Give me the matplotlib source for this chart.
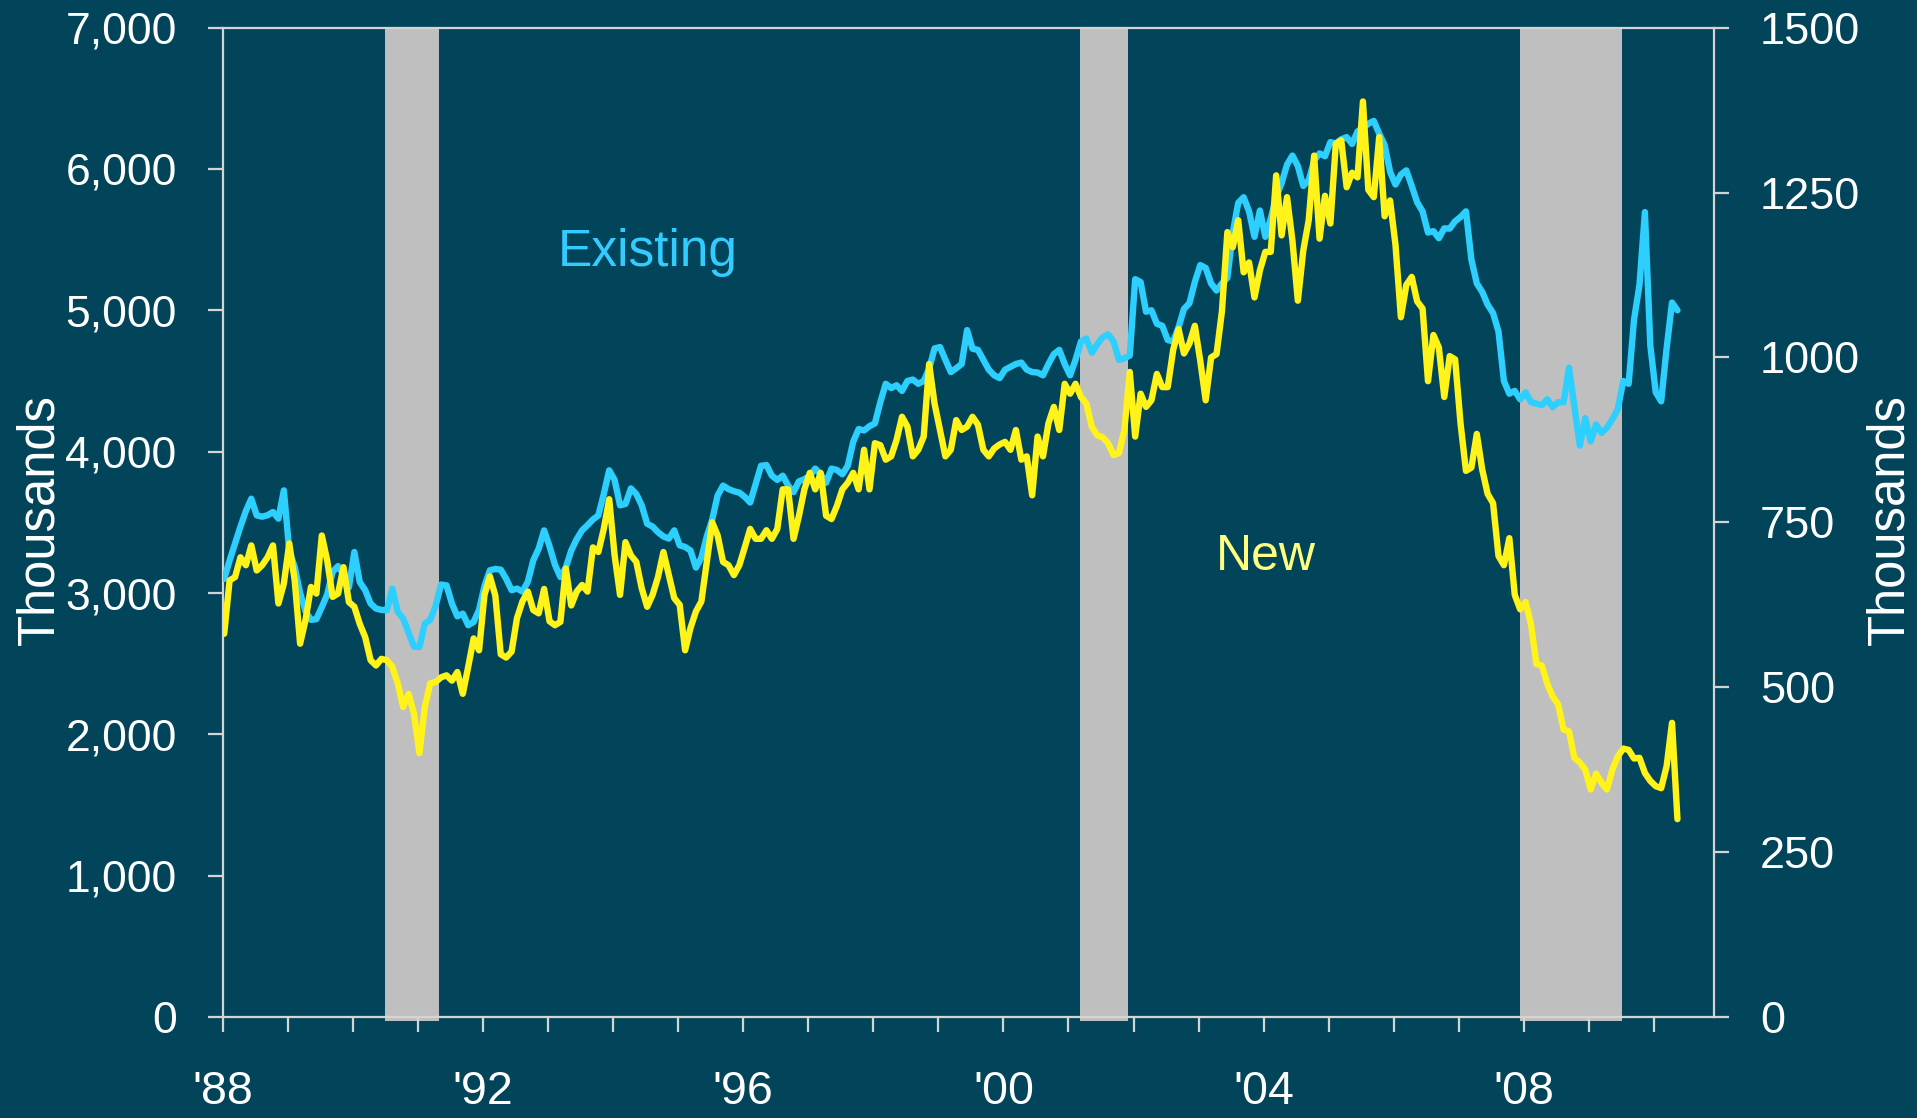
import numpy as np
import matplotlib
matplotlib.use("Agg")
import matplotlib.pyplot as plt
from matplotlib.ticker import FuncFormatter

plt.rcParams['font.family'] = ['Liberation Sans', 'DejaVu Sans']

# Home sales, monthly Jan 1988 - May 2010, thousands (annual rate)
existing = [
    3100, 3230, 3350, 3470, 3580, 3667, 3549, 3540, 3550, 3573, 3526, 3726,  # 1988
    3300, 3184, 3000, 2870, 2810, 2815, 2900, 2990, 3150, 3190, 3130, 3040,  # 1989
    3290, 3078, 3020, 2925, 2890, 2880, 2878, 3031, 2866, 2820, 2720, 2620,  # 1990
    2618, 2783, 2810, 2910, 3060, 3054, 2925, 2835, 2854, 2772, 2795, 2880,  # 1991
    3050, 3161, 3170, 3165, 3100, 3020, 3031, 3010, 3080, 3231, 3314, 3443,  # 1992
    3330, 3200, 3113, 3180, 3300, 3380, 3443, 3480, 3520, 3549, 3700, 3868,  # 1993
    3800, 3620, 3630, 3740, 3700, 3620, 3490, 3470, 3430, 3400, 3385, 3443,  # 1994
    3337, 3326, 3300, 3180, 3250, 3400, 3520, 3690, 3760, 3735, 3720, 3710,  # 1995
    3680, 3640, 3770, 3900, 3905, 3830, 3800, 3830, 3760, 3714, 3790, 3805,  # 1996
    3830, 3880, 3840, 3780, 3880, 3870, 3840, 3900, 4070, 4160, 4150, 4180,  # 1997
    4200, 4350, 4480, 4450, 4470, 4430, 4500, 4510, 4480, 4500, 4586, 4730,  # 1998
    4740, 4650, 4563, 4590, 4620, 4860, 4728, 4720, 4650, 4580, 4540, 4520,  # 1999
    4580, 4600, 4620, 4630, 4580, 4563, 4560, 4540, 4620, 4690, 4720, 4620,  # 2000
    4540, 4650, 4780, 4800, 4700, 4760, 4810, 4830, 4780, 4650, 4660, 4680,  # 2001
    5220, 5200, 4990, 5000, 4905, 4890, 4790, 4780, 4880, 5010, 5050, 5200,  # 2002
    5320, 5300, 5190, 5140, 5190, 5230, 5550, 5760, 5800, 5700, 5520, 5706,  # 2003
    5520, 5650, 5800, 5900, 6030, 6095, 6020, 5880, 5920, 6060, 6110, 6090,  # 2004
    6190, 6180, 6210, 6225, 6177, 6265, 6290, 6320, 6340, 6250, 6170, 5980,  # 2005
    5890, 5960, 5990, 5880, 5764, 5700, 5550, 5560, 5510, 5580, 5578, 5630,  # 2006
    5660, 5700, 5360, 5190, 5130, 5040, 4980, 4850, 4500, 4410, 4430, 4370,  # 2007
    4420, 4350, 4340, 4330, 4370, 4315, 4350, 4350, 4594, 4320, 4043, 4237,  # 2008
    4073, 4192, 4133, 4170, 4230, 4300, 4500, 4480, 4936, 5180, 5695, 4750,  # 2009
    4420, 4356, 4730, 5055, 5000,                                            # 2010
]

new_sales = [
    581, 662, 667, 697, 685, 715, 677, 685, 697, 715, 627, 657,        # 1988
    718, 662, 566, 602, 652, 642, 730, 692, 637, 642, 682, 629,        # 1989
    622, 596, 576, 541, 533, 543, 541, 531, 506, 470, 490, 460,        # 1990
    400, 470, 506, 508, 515, 518, 510, 523, 490, 531, 574, 556,        # 1991
    640, 668, 639, 550, 545, 554, 605, 630, 645, 617, 612, 649,        # 1992
    600, 594, 599, 680, 624, 645, 655, 645, 712, 705, 740, 785,        # 1993
    700, 640, 720, 700, 690, 650, 622, 640, 667, 705, 670, 635,        # 1994
    625, 556, 590, 615, 630, 690, 750, 730, 690, 685, 670, 685,        # 1995
    712, 740, 725, 725, 738, 725, 740, 800, 800, 725, 760, 800,        # 1996
    825, 800, 825, 760, 755, 775, 800, 810, 825, 800, 860, 800,        # 1997
    870, 867, 845, 850, 875, 910, 895, 850, 860, 880, 990, 930,        # 1998
    890, 850, 860, 905, 890, 895, 910, 898, 860, 850, 862, 868,        # 1999
    872, 860, 890, 845, 850, 791, 880, 850, 900, 925, 890, 960,        # 2000
    945, 960, 940, 930, 895, 882, 879, 870, 852, 855, 890, 978,        # 2001
    880, 945, 925, 935, 975, 955, 955, 1011, 1043, 1006, 1021, 1048,   # 2002
    995, 935, 1000, 1005, 1070, 1190, 1167, 1208, 1129, 1144, 1091, 1132,  # 2003
    1160, 1160, 1276, 1185, 1243, 1177, 1086, 1162, 1208, 1306, 1180, 1245,  # 2004
    1203, 1324, 1329, 1258, 1280, 1273, 1388, 1254, 1243, 1334, 1214, 1238,  # 2005
    1171, 1061, 1110, 1122, 1085, 1074, 964, 1034, 1015, 940, 1002, 997,  # 2006
    900, 828, 833, 884, 830, 793, 779, 699, 685, 726, 640, 618,        # 2007
    629, 595, 535, 533, 505, 486, 474, 436, 433, 393, 386, 375,        # 2008
    345, 369, 355, 345, 375, 395, 407, 405, 392, 393, 370, 358,        # 2009
    350, 347, 380, 446, 300,                                           # 2010
]

recessions = [(1990.50, 1991.33), (2001.18, 2001.92), (2007.94, 2009.51)]

year_ticks = list(range(1988, 2011))
year_labels = ["'%02d" % (y % 100) if y % 4 == 0 else "" for y in year_ticks]

bg = '#02455A'
cyan = '#2DCFFF'
yellow = '#FFF31A'
axis_col = '#D4D4D4'

fig = plt.figure(figsize=(19.17, 11.18), dpi=100, facecolor=bg)
ax = fig.add_axes([0.1161, 0.0903, 0.778, 0.885])
ax.set_facecolor(bg)
ax2 = ax.twinx()

x_exist = 1988 + (np.arange(len(existing)) + 0.3) / 12
x_new = 1988 + (np.arange(len(new_sales)) + 0.3) / 12

for start, end in recessions:
    ax.axvspan(start, end, ymin=-0.004, ymax=1, color='#BFBFBF', lw=0,
               zorder=0, clip_on=False)

ax.plot(x_exist, existing, color=cyan, lw=4.6, solid_joinstyle='round',
        solid_capstyle='round', zorder=3)
ax2.plot(x_new, new_sales, color=yellow, lw=4.6, solid_joinstyle='round',
         solid_capstyle='round', zorder=3)

ax.set_xlim(1988, 2010.92)
ax.set_ylim(0, 7000)
ax2.set_ylim(0, 1500)

ax.set_yticks(range(0, 7001, 1000))
ax.yaxis.set_major_formatter(FuncFormatter(lambda v, p: f'{v:,.0f}'))
ax2.set_yticks(range(0, 1501, 250))
ax.set_xticks(year_ticks)
ax.set_xticklabels(year_labels)

# spines
for s in ['left', 'bottom', 'top']:
    ax.spines[s].set_color(axis_col)
    ax.spines[s].set_linewidth(1.6)
ax.spines['right'].set_visible(False)
for s in ['left', 'bottom', 'top']:
    ax2.spines[s].set_visible(False)
ax2.spines['right'].set_color(axis_col)
ax2.spines['right'].set_linewidth(1.6)

ax.tick_params(axis='y', direction='out', length=11, width=1.6, color=axis_col,
               labelcolor='white', labelsize=32, pad=22)
ax.tick_params(axis='x', direction='out', length=11, width=1.6, color=axis_col,
               labelcolor='white', labelsize=33.5, pad=27)
ax2.tick_params(axis='y', direction='out', length=11, width=1.6, color=axis_col,
                labelcolor='white', labelsize=32.5, pad=22)

# axis titles
fig.text(0.021, 0.535, 'Thousands', rotation=90, color='white', fontsize=36.5,
         ha='center', va='center')
fig.text(0.986, 0.535, 'Thousands', rotation=90, color='white', fontsize=36.5,
         ha='center', va='center')

# series labels
ax.text(1994.53, 5310, 'Existing', color='#33CCFF', fontsize=37,
        ha='center', va='baseline', zorder=5)
ax.text(2004.03, 3161, 'New', color='#FFFF7F', fontsize=36,
        ha='center', va='baseline', zorder=5)

fig.savefig('out.png', dpi=100, facecolor=bg)
